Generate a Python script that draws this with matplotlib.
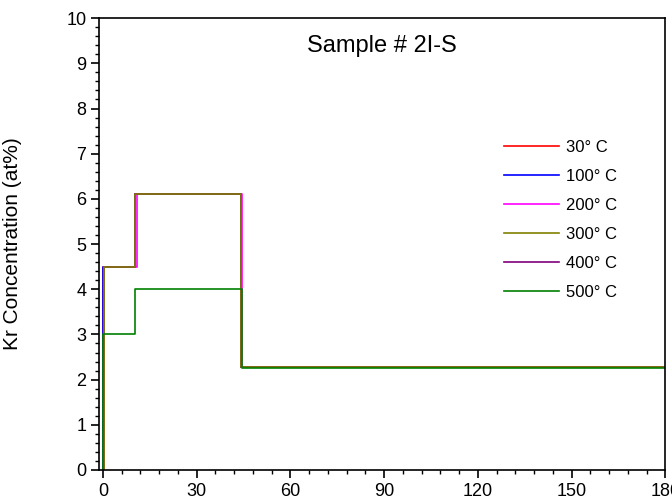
import matplotlib
matplotlib.use("Agg")
import matplotlib.pyplot as plt
from matplotlib.ticker import MultipleLocator

plt.rcParams['font.family'] = ['Liberation Sans', 'DejaVu Sans']

# Step profiles: (step positions, concentration levels) per annealing temperature
labels = ["30° C", "100° C", "200° C", "300° C", "400° C", "500° C"]
colors = ["#ff0000", "#0000ff", "#ff00ff", "#808000", "#800080", "#008000"]
zorders = [2, 2.1, 2.2, 2.4, 2.3, 2.5]

edges_30 = [0.0, 10.3, 44.2, 180.0]
levels_30 = [4.5, 6.1, 2.28]
edges_100 = [0.0, 10.3, 44.2, 180.0]
levels_100 = [4.5, 6.1, 2.28]
edges_200 = [0.3, 10.8, 44.6, 180.0]
levels_200 = [4.5, 6.1, 2.28]
edges_300 = [0.3, 10.3, 44.2, 180.0]
levels_300 = [4.5, 6.1, 2.28]
edges_400 = [0.3, 10.3, 44.2, 180.0]
levels_400 = [4.5, 6.1, 2.28]
edges_500 = [0.0, 10.3, 44.4, 180.0]
levels_500 = [3.0, 4.0, 2.25]

series = [
    (edges_30, levels_30),
    (edges_100, levels_100),
    (edges_200, levels_200),
    (edges_300, levels_300),
    (edges_400, levels_400),
    (edges_500, levels_500),
]

fig = plt.figure(figsize=(6.72, 5.04), dpi=100)
ax = fig.add_axes([0.148, 0.0675, 0.842, 0.8965])

for (edges, levels), lab, col, zo in zip(series, labels, colors, zorders):
    xs = [edges[0]]
    ys = [0.0]
    for i, lv in enumerate(levels):
        xs += [edges[i], edges[i + 1]]
        ys += [lv, lv]
    ax.plot(xs, ys, color=col, lw=1.2, label=lab, zorder=zo)

ax.set_xlim(-1.1, 180)
ax.set_ylim(0, 10)
ax.xaxis.set_major_locator(MultipleLocator(30))
ax.xaxis.set_minor_locator(MultipleLocator(6))
ax.yaxis.set_major_locator(MultipleLocator(1))
ax.yaxis.set_minor_locator(MultipleLocator(0.2))
ax.tick_params(which='major', direction='out', length=6, width=1.2, labelsize=13,
               top=False, right=False)
ax.tick_params(which='minor', direction='out', length=3, width=1.0,
               top=False, right=False)
for sp in ax.spines.values():
    sp.set_linewidth(1.2)

ax.set_ylabel("Kr Concentration (at%)", fontsize=15)
ax.yaxis.set_label_coords(-0.137, 0.5)
ax.text(0.5, 0.938, "Sample # 2I-S", transform=ax.transAxes, ha='center',
        va='center', fontsize=17)

handles, labs = ax.get_legend_handles_labels()
ax.legend(handles, labs, loc='upper left', bbox_to_anchor=(0.715, 0.73),
          frameon=False, fontsize=12, handlelength=3.3, handletextpad=0.4,
          labelspacing=0.84, borderaxespad=0, borderpad=0)

fig.savefig("out.png", dpi=100)
